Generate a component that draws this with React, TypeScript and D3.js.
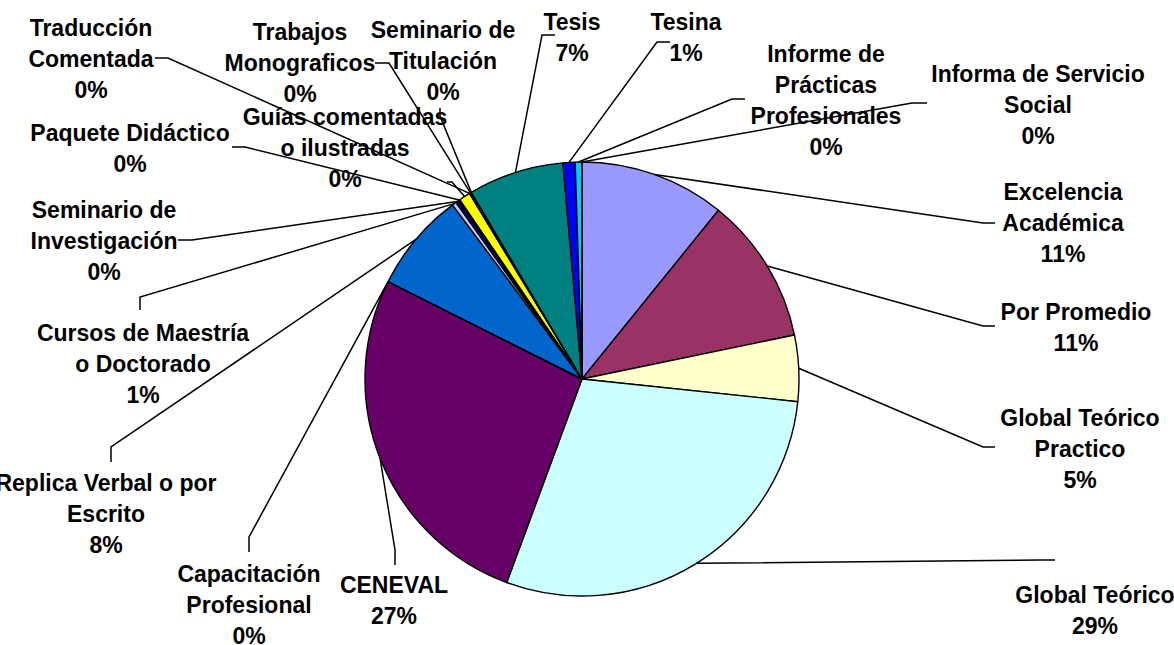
import React from "react";
import * as d3 from "d3";

const categories = [
  "Excelencia\nAcadémica",
  "Por Promedio",
  "Global Teórico\nPractico",
  "Global Teórico",
  "CENEVAL",
  "Capacitación\nProfesional",
  "Replica Verbal o por\nEscrito",
  "Cursos de Maestría\no Doctorado",
  "Seminario de\nInvestigación",
  "Paquete Didáctico",
  "Guías comentadas\no ilustradas",
  "Traducción\nComentada",
  "Trabajos\nMonograficos",
  "Seminario de\nTitulación",
  "Tesis",
  "Tesina",
  "Informe de\nPrácticas\nProfesionales",
  "Informa de Servicio\nSocial",
];

const values = [10.8, 10.9, 4.9, 28.9, 26.7, 0, 7.4, 0.3, 0.25, 0.1, 0.85, 0, 0.15, 0, 7.1, 0.9, 0.5, 0];

const percentLabels = ["11%", "11%", "5%", "29%", "27%", "0%", "8%", "1%", "0%", "0%", "0%", "0%", "0%", "0%", "7%", "1%", "0%", "0%"];

const colors = [
  "#9999FF", "#993366", "#FFFFCC", "#CCFFFF", "#660066", "#FF8080",
  "#0066CC", "#CCCCFF", "#000080", "#FF00FF", "#FFFF00", "#00FFFF",
  "#800080", "#800000", "#008080", "#0000FF", "#00CCFF", "#CCFFFF",
];

// label placement: text centre x, first baseline y, leader elbow and end points
const labelLayout = [
  { cx: 1063, y: 200, elbow: [983, 223], end: [995, 223] },
  { cx: 1076, y: 320, elbow: [983, 326], end: [995, 326] },
  { cx: 1080, y: 426, elbow: [983, 447], end: [995, 447] },
  { cx: 1095, y: 603, elbow: [1040, 560], end: [1055, 560] },
  { cx: 394, y: 593, elbow: [395, 550], end: [395, 565] },
  { cx: 249, y: 582, elbow: [249, 537], end: [249, 552] },
  { cx: 106, y: 491, elbow: [111, 447], end: [111, 462] },
  { cx: 143, y: 341, elbow: [140, 297], end: [140, 310] },
  { cx: 104, y: 218, elbow: [192, 240], end: [178, 240] },
  { cx: 130, y: 141, elbow: [245, 147], end: [232, 147] },
  { cx: 345, y: 125, elbow: [452, 182], end: [447, 182] },
  { cx: 91, y: 36, elbow: [168, 58], end: [155, 58] },
  { cx: 300, y: 40, elbow: [389, 63], end: [375, 63] },
  { cx: 443, y: 38, elbow: [440, 116], end: [440, 108] },
  { cx: 572, y: 30, elbow: [542, 35], end: [555, 35] },
  { cx: 686, y: 30, elbow: [657, 42], end: [670, 42] },
  { cx: 826, y: 62, elbow: [732, 99], end: [745, 99] },
  { cx: 1038, y: 82, elbow: [912, 103], end: [927, 103] },
];

const W = 1174;
const H = 645;
const CX = 582;
const CY = 379;
const R = 217;
const LINE = 31;

export default function App() {
  const pie = d3.pie<number>().sort(null).value((d) => d)(values);
  const arc = d3.arc<d3.PieArcDatum<number>>().innerRadius(0).outerRadius(R);
  const edge = d3.arc<d3.PieArcDatum<number>>().innerRadius(R).outerRadius(R);

  return (
    <svg
      width={W}
      height={H}
      style={{ position: "absolute", left: 0, top: 0, background: "#fff" }}
      fontFamily="'Liberation Sans', Arial, sans-serif"
      fontWeight="bold"
      fontSize={23}
    >
      <g transform={`translate(${CX},${CY})`}>
        {pie.map((p, i) => (
          <path key={i} d={arc(p) || ""} fill={colors[i]} stroke="#000" strokeWidth={1.4} strokeLinejoin="round" />
        ))}
      </g>
      {pie.map((p, i) => {
        const [px, py] = edge.centroid(p);
        const L = labelLayout[i];
        const pts = `${CX + px},${CY + py} ${L.elbow[0]},${L.elbow[1]} ${L.end[0]},${L.end[1]}`;
        return <polyline key={"l" + i} points={pts} fill="none" stroke="#000" strokeWidth={1.5} />;
      })}
      {categories.map((c, i) => {
        const L = labelLayout[i];
        const lines = [...c.split("\n"), percentLabels[i]];
        return (
          <text key={"t" + i} textAnchor="middle" fill="#000">
            {lines.map((ln, j) => (
              <tspan key={j} x={L.cx} y={L.y + j * LINE}>
                {ln}
              </tspan>
            ))}
          </text>
        );
      })}
    </svg>
  );
}
